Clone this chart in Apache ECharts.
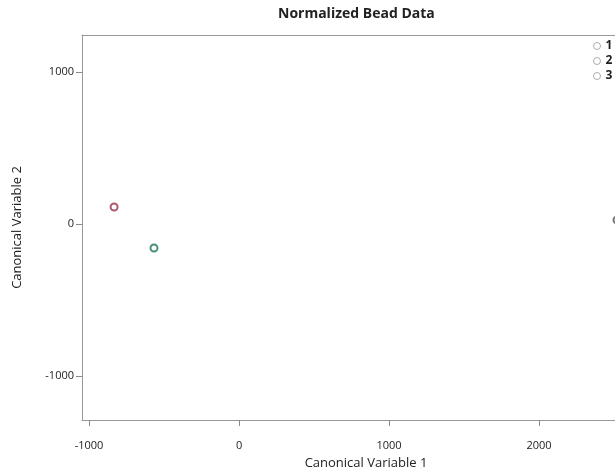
<!DOCTYPE html>
<html>
<head>
<meta charset="utf-8">
<script src="https://cdn.jsdelivr.net/npm/echarts@6/dist/echarts.min.js"></script>
<style>
  html, body { margin: 0; padding: 0; background: #fff; overflow: hidden; }
  #main { width: 680px; height: 500px; }
</style>
</head>
<body>
<div id="main"></div>
<script>
// group names and their single (x, y) point
const groups = ['1', '2', '3'];
const groupX = [-833, -567, 2520];
const groupY = [112, -158, 26];
const groupColors = ['#9b2f48', '#1d7355', '#555555'];
const tickValues = [-1000, 0, 1000, 2000];
const yTickValues = [-1000, 0, 1000];

const chart = echarts.init(document.getElementById('main'));

const series = groups.map(function (g, i) {
  return {
    name: g,
    type: 'scatter',
    symbol: 'emptyCircle',
    symbolSize: 7,
    data: [[groupX[i], groupY[i]]],
    itemStyle: { color: groupColors[i], borderColor: groupColors[i], borderWidth: 2 }
  };
});

function plain(v) { return String(v); }

const option = {
  animation: false,
  textStyle: { fontFamily: 'Open Sans' },
  title: {
    text: 'Normalized Bead Data',
    left: 273,
    top: 2,
    textStyle: { fontSize: 14, fontWeight: 'bold', color: '#222', fontFamily: 'Open Sans' }
  },
  legend: {
    orient: 'vertical',
    left: 593,
    top: 40,
    padding: 0,
    itemWidth: 7,
    itemHeight: 7,
    itemGap: 3,
    icon: 'circle',
    itemStyle: { color: '#fff', borderColor: '#999', borderWidth: 1 },
    textStyle: { fontSize: 12, fontWeight: 'bold', color: '#222' },
    data: groups
  },
  // grid box: left 82, top 35, bottom edge at y=420, right edge past the visible 615px
  grid: {
    left: 82, top: 35, right: 30, bottom: 80
  },
  xAxis: [{
    type: 'value',
    position: 'bottom',
    min: -1047,
    max: 2740,
    name: 'Canonical Variable 1',
    nameLocation: 'middle',
    nameGap: 37,
    nameTextStyle: { fontSize: 13, color: '#222' },
    splitLine: { show: false },
    axisLine: { show: true, onZero: false, lineStyle: { color: '#999' } },
    axisTick: { show: true, customValues: tickValues, length: 6, lineStyle: { color: '#888' } },
    axisLabel: { customValues: tickValues, formatter: plain, fontSize: 11, color: '#222', margin: 20 }
  }, {
    // top frame line only
    type: 'value',
    position: 'top',
    min: -1047,
    max: 2740,
    splitLine: { show: false },
    axisLine: { show: true, onZero: false, lineStyle: { color: '#999' } },
    axisTick: { show: false },
    axisLabel: { show: false }
  }],
  yAxis: {
    type: 'value',
    min: -1289,
    max: 1243,
    name: 'Canonical Variable 2',
    nameLocation: 'middle',
    nameGap: 58,
    nameTextStyle: { fontSize: 13, color: '#222' },
    splitLine: { show: false },
    axisLine: { show: true, onZero: false, lineStyle: { color: '#999' } },
    axisTick: { show: true, customValues: yTickValues, length: 6, lineStyle: { color: '#888' } },
    axisLabel: { customValues: yTickValues, formatter: plain, fontSize: 11, color: '#222', margin: 8 }
  },
  series: series
};

chart.setOption(option);
</script>
</body>
</html>
